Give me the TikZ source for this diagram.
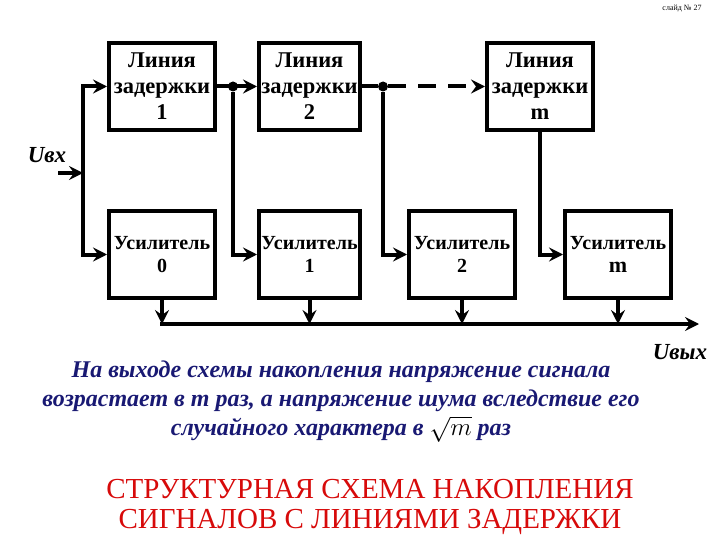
\documentclass[tikz,border=0pt]{standalone}
\usepackage{fontspec}
\setmainfont{Liberation Serif}
\usetikzlibrary{arrows.meta}

\definecolor{notenavy}{RGB}{25,25,115}
\definecolor{titlered}{RGB}{215,10,10}

\tikzset{
	delaybox/.style={draw, line width=4pt, minimum width=106pt, minimum height=87pt, inner sep=0pt, align=center, font=\bfseries\fontsize{22.5}{26}\selectfont},
	ampbox/.style={delaybox, font=\bfseries\fontsize{20}{23}\selectfont},
	wire/.style={line width=4pt},
	arr/.style={wire, -{Stealth[length=14pt,width=14pt,inset=5pt]}},
	junction/.style={circle, fill, inner sep=0pt, minimum size=10pt}
}

\begin{document}
\begin{tikzpicture}[x=1pt, y=-1pt]

\useasboundingbox (0,0) rectangle (720,540);

\def \toprow{86.5}
\def \botrow{254.5}
\def \busy{324}

% delay lines
\node [delaybox] (dl1) at (162,\toprow) {Линия\\задержки\\1};
\node [delaybox, minimum width=101pt] (dl2) at (309.5,\toprow) {Линия\\задержки\\2};
\node [delaybox] (dlm) at (540,\toprow) {Линия\\задержки\\m};

% amplifiers
\node [ampbox] (us0) at (162,\botrow) {Усилитель\\0};
\node [ampbox, minimum width=101pt] (us1) at (309.5,\botrow) {Усилитель\\1};
\node [ampbox] (us2) at (462,\botrow) {Усилитель\\2};
\node [ampbox] (usm) at (618,\botrow) {Усилитель\\{\fontsize{22}{30}\selectfont m}};

% input
\coordinate (in) at (58,173);
\coordinate (split) at (83,173);
\draw [arr] (in) -- (split);
\draw [arr] (split |- us0.west) |- (dl1.west);
\draw [arr] (split |- dl1.west) |- (us0.west);
\node (uin) at (47,155) {\bfseries\itshape\fontsize{23}{23}\selectfont Uвх};

% taps
\node [junction] (j1) at (233,\toprow) {};
\node [junction] (j2) at (383,\toprow) {};
\draw [arr] (dl1.east) -- (dl2.west);
\draw [wire] (dl2.east) -- (j2);
\draw [arr, dash pattern=on 18pt off 12pt] (j2) -- (dlm.west);
\draw [arr] (j1) |- (us1.west);
\draw [arr] (j2) |- (us2.west);
\draw [arr] (dlm.south) |- (usm.west);

% output bus
\coordinate (busL) at (160,\busy);
\coordinate (busR) at (699,\busy);
\draw [arr] (busL) -- (busR);
\foreach \n in {0,1,2,m}
{
	\draw [arr] (us\n.south) -- (us\n.south |- busL);
}
\node (uout) at (680,352) {\bfseries\itshape\fontsize{23}{23}\selectfont Uвых};

% notes
\node (note) at (341,401) [align=center, text=notenavy, font=\bfseries\itshape\fontsize{24}{29}\selectfont]
	{На выходе схемы накопления напряжение сигнала\\
	 возрастает в m раз, а напряжение шума вследствие его\\
	 случайного характера в \smash{\color{black}\fontsize{38}{29}\selectfont$\sqrt{m}$} раз};
\node (title) at (370,507) [align=center, text=titlered, font=\fontsize{29}{30}\selectfont]
	{СТРУКТУРНАЯ СХЕМА НАКОПЛЕНИЯ\\СИГНАЛОВ С ЛИНИЯМИ ЗАДЕРЖКИ};
\node (slide) at (682,9) {\fontsize{8}{8}\selectfont слайд № 27};

\end{tikzpicture}
\end{document}
